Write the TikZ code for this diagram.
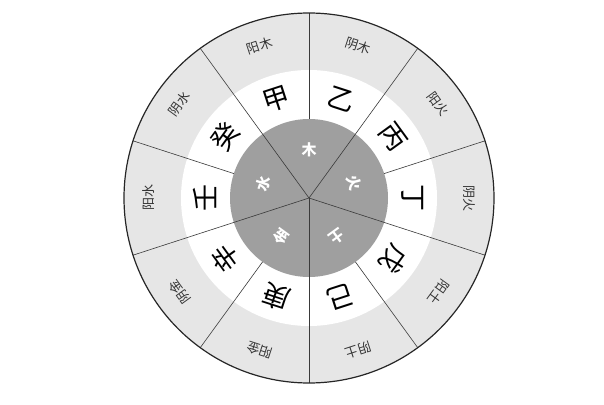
\documentclass[tikz,border=0pt]{standalone}
\usepackage{fontspec}
\newfontfamily\cjk{Noto Sans CJK SC}
\definecolor{ringgray}{HTML}{E6E6E6}
\definecolor{coregray}{HTML}{9F9F9F}
\definecolor{spokegray}{HTML}{3A3A3A}
\begin{document}
\begin{tikzpicture}[x=1pt,y=1pt,
    stem/.style={font=\cjk\fontsize{27}{27}\selectfont},
    sign/.style={font=\cjk\fontsize{13}{13}\selectfont,text=black!80},
    elem/.style={font=\cjk\bfseries\fontsize{15}{15}\selectfont,text=white},
    spoke/.style={draw=spokegray,line width=0.6pt}]
  \useasboundingbox (-309,-206) rectangle (295,198);
  \fill[ringgray] (0,0) circle (185);
  \fill[white] (0,0) circle (128);
  \fill[coregray] (0,0) circle (79);
  \path
    (0,0) coordinate (o)
    (90:185) coordinate (a0)
    (54:185) coordinate (a1)
    (18:185) coordinate (a2)
    (-18:185) coordinate (a3)
    (-54:185) coordinate (a4)
    (-90:185) coordinate (a5)
    (-126:185) coordinate (a6)
    (-162:185) coordinate (a7)
    (162:185) coordinate (a8)
    (126:185) coordinate (a9)
    (90:79) coordinate (b0)
    (18:79) coordinate (b2)
    (-54:79) coordinate (b4)
    (-126:79) coordinate (b6)
    (162:79) coordinate (b8);
  \begin{scope}[spoke]
    \draw (o) to (a1);
    \draw (o) to (a3);
    \draw (o) to (a5);
    \draw (o) to (a7);
    \draw (o) to (a9);
    \draw (b0) to (a0);
    \draw (b2) to (a2);
    \draw (b4) to (a4);
    \draw (b6) to (a6);
    \draw (b8) to (a8);
  \end{scope}
  \draw[line width=1.2pt,black!85] (o) circle (185);
  % outer ring
  \path
    (108:160) node[sign,rotate=18] (yangmu){阳木}
    (72:160) node[sign,rotate=-18] (yinmu){阴木}
    (36:160) node[sign,rotate=-54] (yanghuo){阳火}
    (0:160) node[sign,rotate=-90] (yinhuo){阴火}
    (-36:160) node[sign,rotate=-126] (yangtu){阳土}
    (-72:160) node[sign,rotate=-162] (yintu){阴土}
    (-108:160) node[sign,rotate=-198] (yangjin){阳金}
    (-144:160) node[sign,rotate=-234] (yinjin){阴金}
    (180:160) node[sign,rotate=90] (yangshui){阳水}
    (144:160) node[sign,rotate=54] (yinshui){阴水};
  % stems
  \path
    (108:104) node[stem,rotate=18] (jia){甲}
    (72:104) node[stem,rotate=-18] (yi){乙}
    (36:104) node[stem,rotate=-54] (bing){丙}
    (0:104) node[stem,rotate=-90] (ding){丁}
    (-36:104) node[stem,rotate=-126] (wu){戊}
    (-72:104) node[stem,rotate=-162] (ji){己}
    (-108:104) node[stem,rotate=-198] (geng){庚}
    (-144:104) node[stem,rotate=-234] (xin){辛}
    (180:104) node[stem,rotate=90] (ren){壬}
    (144:104) node[stem,rotate=54] (gui){癸};
  % elements
  \path
    (90:48) node[elem] (mu){木}
    (18:48) node[elem,rotate=-72] (huo){火}
    (-54:48) node[elem,rotate=-144] (tu){土}
    (-126:48) node[elem,rotate=-216] (jin){金}
    (162:48) node[elem,rotate=72] (shui){水};
\end{tikzpicture}
\end{document}
